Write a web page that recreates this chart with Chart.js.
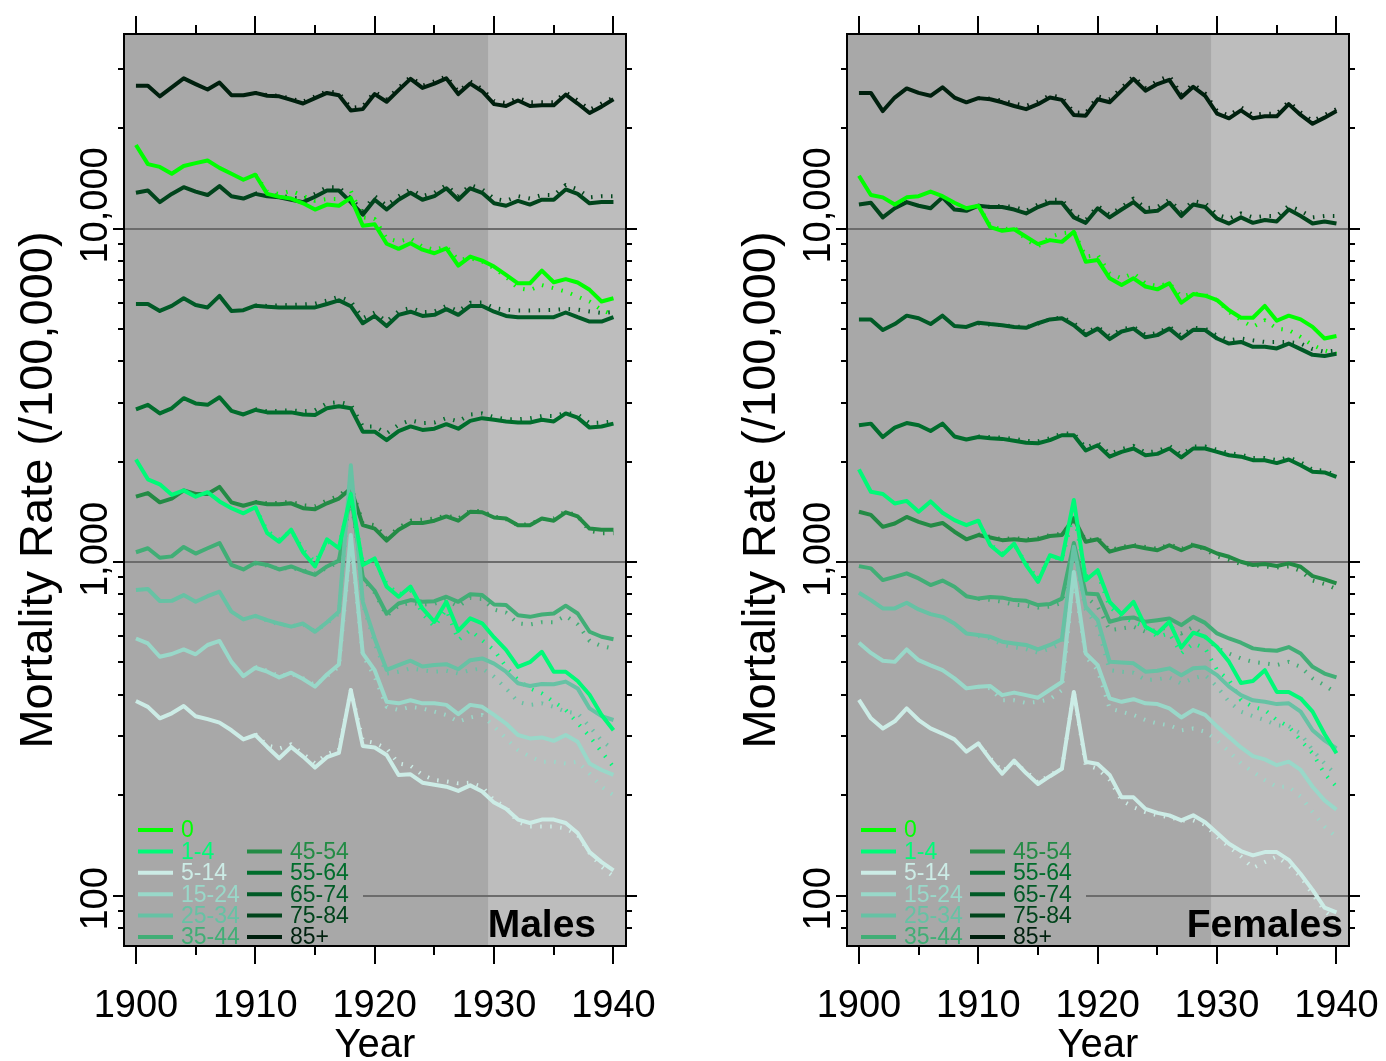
<!DOCTYPE html>
<html>
<head>
<meta charset="utf-8">
<script src="https://cdn.jsdelivr.net/npm/chart.js@4.4.1/dist/chart.umd.min.js"></script>
<style>
html,body{margin:0;padding:0;background:#ffffff;overflow:hidden;}
#wrap{position:relative;width:1386px;height:1061px;}
canvas{position:absolute;top:0;}
</style>
</head>
<body>
<div id="wrap">
<canvas id="cMales" width="693" height="1061" style="left:0px"></canvas>
<canvas id="cFemales" width="693" height="1061" style="left:693px"></canvas>
</div>
<script>
// ---------------- DATA ----------------
const YEARS = [1900,1901,1902,1903,1904,1905,1906,1907,1908,1909,1910,1911,1912,1913,1914,1915,1916,1917,1918,1919,1920,1921,1922,1923,1924,1925,1926,1927,1928,1929,1930,1931,1932,1933,1934,1935,1936,1937,1938,1939,1940];
const FIT_YEARS = [1910,1911,1912,1913,1914,1915,1916,1917,1918,1919,1920,1921,1922,1923,1924,1925,1926,1927,1928,1929,1930,1931,1932,1933,1934,1935,1936,1937,1938,1939,1940];
const AGE_GROUPS = ['0','1-4','5-14','15-24','25-34','35-44','45-54','55-64','65-74','75-84','85+'];
const X_MAJOR_TICKS = [1900,1910,1920,1930,1940];
const X_MINOR_TICKS = [1905,1915,1925,1935];
const Y_MAJOR_TICKS = [100,1000,10000];
const Y_TICK_LABELS = ['100','1,000','10,000'];
const Y_MINOR_TICKS = [80,90,200,300,400,500,600,700,800,900,2000,3000,4000,5000,6000,7000,8000,9000,20000,30000];
const SHADE_START_YEAR = 1929.5;
const PANEL_LABEL_YEAR = 1934;

// Males, observed (solid)
const M_OBS_0     = [17800,15600,15300,14600,15400,15700,16000,15200,14600,14000,14500,12700,12450,12300,11900,11400,11800,11700,12350,10200,10300,9000,8690,9030,8640,8430,8720,7740,8240,8010,7690,7260,6850,6850,7480,6900,7050,6890,6550,6040,6180];
const M_OBS_1_4   = [2030,1770,1710,1590,1640,1570,1620,1520,1450,1400,1460,1220,1150,1250,1070,970,1170,1100,1600,980,1025,844,787,844,726,662,760,622,678,655,594,545,485,501,538,469,469,440,400,348,313];
const M_OBS_5_14  = [383,368,340,352,370,345,338,330,313,294,303,279,258,279,261,242,260,268,413,281,278,264,230,231,218,215,212,206,214,205,190,182,169,165,169,169,165,154,135,126,119];
const M_OBS_15_24 = [590,570,520,530,547,529,564,580,502,455,482,469,451,466,446,423,460,493,1205,532,474,381,377,385,377,377,373,350,373,368,348,328,303,296,298,291,303,289,249,238,230];
const M_OBS_25_34 = [824,830,764,765,796,760,790,815,710,673,690,670,654,640,654,618,660,710,1950,760,590,475,491,506,486,491,494,477,508,514,496,469,433,425,431,430,438,418,364,345,336];
const M_OBS_35_44 = [1070,1100,1030,1040,1110,1060,1100,1140,980,950,995,980,950,970,940,915,970,1010,1600,900,820,700,751,769,760,763,787,760,801,796,746,743,693,685,696,701,740,701,618,597,587];
const M_OBS_45_54 = [1570,1610,1510,1550,1640,1600,1600,1680,1510,1475,1510,1490,1490,1500,1450,1440,1500,1550,1660,1290,1260,1160,1250,1310,1310,1330,1370,1330,1415,1410,1360,1350,1290,1290,1350,1330,1410,1370,1260,1250,1250];
const M_OBS_55_64 = [2870,2960,2790,2890,3100,2990,2960,3120,2840,2770,2860,2810,2810,2810,2770,2760,2890,2930,2890,2460,2460,2320,2470,2550,2490,2510,2590,2510,2650,2700,2670,2640,2620,2620,2670,2640,2790,2710,2530,2550,2600];
const M_OBS_65_74 = [5940,5940,5660,5860,6180,5900,5800,6280,5660,5690,5870,5830,5800,5800,5800,5800,5940,6090,5850,5200,5470,5100,5510,5630,5470,5510,5730,5510,5860,5860,5630,5470,5420,5420,5420,5420,5600,5420,5260,5260,5420];
const M_OBS_75_84 = [12800,13000,12000,12700,13300,12900,12600,13400,12500,12300,12700,12500,12400,12200,12000,12450,13000,13000,12000,11000,12200,11400,12200,12800,12200,12500,13200,12200,13200,12800,11900,11700,12100,11800,12200,12200,13100,12700,11900,12000,12000];
const M_OBS_85    = [26800,26800,24900,26500,28200,27100,26100,27400,25100,25100,25500,25000,24900,24300,23700,24600,25500,25100,22600,22800,25300,24000,26000,28100,26400,27200,28200,25300,27200,25800,23600,23300,24200,23300,23400,23400,25200,23700,22200,23200,24400];

// Males, fitted (dotted), 1910-1940
const M_FIT_0     = [14500,12900,12700,12970,12530,12110,12250,12250,12970,10800,10680,9340,9140,9340,8830,8630,8830,8050,8150,7970,7590,7170,6620,6540,6770,6620,6470,6250,6040,5700,5510];
const M_FIT_1_4   = [1460,1240,1170,1240,1090,1000,1150,1120,1550,1000,1010,860,800,820,700,640,720,583,625,583,545,485,443,418,404,381,360,329,300,270,243];
const M_FIT_5_14  = [305,282,276,284,266,249,266,273,413,292,287,276,249,245,230,222,220,217,218,212,193,184,166,161,161,161,159,152,134,122,114];
const M_FIT_15_24 = [485,472,455,462,448,428,455,485,1150,526,453,368,360,368,364,356,348,332,342,348,321,296,273,261,252,252,249,252,232,212,200];
const M_FIT_25_34 = [688,668,650,642,650,620,655,700,1850,750,570,463,469,480,474,469,472,463,474,480,453,418,381,373,377,368,356,352,321,292,273];
const M_FIT_35_44 = [990,975,955,960,945,925,960,1000,1550,890,810,690,740,755,745,750,770,735,780,775,720,705,655,650,660,660,690,650,580,560,550];
const M_FIT_45_54 = [1515,1500,1505,1515,1480,1470,1530,1580,1690,1310,1290,1180,1270,1330,1340,1350,1380,1350,1425,1420,1370,1345,1290,1300,1345,1350,1420,1375,1240,1220,1220];
const M_FIT_55_64 = [2870,2830,2840,2850,2830,2850,2990,3020,2960,2550,2550,2430,2580,2660,2610,2620,2700,2640,2770,2790,2720,2680,2680,2700,2740,2740,2800,2770,2610,2620,2640];
const M_FIT_65_74 = [5880,5860,5880,5900,5920,5950,6080,6250,6050,5380,5600,5260,5650,5780,5610,5640,5860,5650,5990,6000,5780,5700,5680,5680,5690,5700,5740,5710,5640,5580,5620];
const M_FIT_75_84 = [12750,12600,12550,12400,12250,12700,13300,13300,12300,11300,12500,11700,12500,13100,12500,12800,13500,12500,13500,13100,12300,12100,12500,12300,12600,12600,13500,13100,12400,12500,12500];
const M_FIT_85    = [25500,25100,25000,24500,24000,24900,25800,25500,23000,23200,25700,24400,26400,28500,26800,27600,28600,25700,27600,26200,24100,23800,24600,23900,23900,23900,25600,24200,22700,23700,24700];

// Females, observed (solid)
const F_OBS_0     = [14400,12600,12400,11800,12400,12500,12900,12500,11950,11500,11700,10100,9840,9950,9450,8980,9230,9120,9780,7950,8050,7090,6770,7090,6700,6570,6850,5990,6360,6290,6100,5690,5400,5400,5860,5290,5480,5340,5070,4680,4760];
const F_OBS_1_4   = [1896,1625,1600,1498,1525,1415,1520,1405,1336,1290,1330,1123,1048,1135,979,872,1048,1018,1535,882,945,760,698,760,640,611,662,554,614,597,556,502,434,440,474,408,408,390,356,305,267];
const F_OBS_5_14  = [386,340,317,333,364,336,317,306,294,270,286,256,232,254,233,216,228,240,408,252,248,230,197,197,182,177,174,168,174,166,154,143,136,132,135,135,128,116,104,92,89];
const F_OBS_15_24 = [573,534,506,502,547,508,490,474,448,418,423,425,399,406,399,392,414,437,933,532,491,390,381,388,377,375,364,342,360,348,321,299,278,262,256,246,252,238,212,193,181];
const F_OBS_25_34 = [809,769,726,726,755,721,698,685,654,611,604,597,577,570,564,547,564,587,1111,734,670,502,500,497,469,472,480,458,480,483,458,423,399,385,381,375,377,356,313,292,276];
const F_OBS_35_44 = [972,957,883,903,925,893,853,880,843,790,777,786,782,769,765,743,748,777,1140,805,801,662,677,682,662,669,677,647,685,657,611,590,573,551,545,542,556,532,485,463,451];
const F_OBS_45_54 = [1415,1385,1275,1305,1365,1320,1285,1310,1233,1170,1205,1185,1163,1170,1160,1170,1197,1205,1352,1150,1170,1074,1100,1118,1100,1085,1123,1085,1123,1100,1061,1037,1002,980,987,973,991,968,907,887,863];
const F_OBS_55_64 = [2570,2600,2370,2530,2610,2570,2470,2600,2380,2330,2370,2350,2340,2310,2280,2270,2320,2400,2400,2160,2240,2070,2140,2190,2090,2110,2190,2060,2190,2190,2140,2090,2070,2020,2020,1980,2030,1950,1865,1857,1800];
const F_OBS_65_74 = [5340,5340,4960,5170,5480,5380,5170,5480,5100,5070,5220,5170,5130,5070,5040,5200,5340,5380,5130,4790,5010,4660,4910,5010,4720,4790,5010,4680,4970,4960,4680,4520,4570,4420,4420,4370,4520,4350,4180,4150,4210];
const F_OBS_75_84 = [11800,11950,10800,11500,12000,11700,11500,12400,11400,11300,11700,11600,11600,11400,11100,11600,11950,11950,10800,10400,11500,10800,11400,12000,11200,11300,11950,10900,11800,11600,10700,10350,10800,10400,10600,10500,11400,10900,10350,10500,10350];
const F_OBS_85    = [25500,25500,22500,24700,26300,25500,25000,26500,24700,23900,24600,24400,23900,23300,22800,23600,24700,24300,21900,21800,24400,23900,25900,28100,25900,27100,27900,24700,26600,25000,22100,21400,22600,21400,21700,21700,23600,21900,20600,21500,22500];

// Females, fitted (dotted), 1910-1940
const F_FIT_0     = [11700,10200,9900,10100,9240,8830,9450,9670,9780,8230,8330,7340,7090,7340,6850,6720,6850,6250,6390,6320,6100,5620,5310,5070,5310,5010,4960,4730,4470,4310,4210];
const F_FIT_1_4   = [1330,1130,1060,1130,990,890,1040,1020,1400,903,925,734,685,661,640,597,611,532,570,551,474,443,386,368,360,336,321,292,267,232,212];
const F_FIT_5_14  = [286,258,236,250,236,218,230,240,408,246,240,222,193,184,178,174,172,168,168,163,150,140,131,121,126,131,123,114,101,90,84];
const F_FIT_15_24 = [423,418,385,385,378,381,388,413,900,520,474,364,356,348,336,328,324,313,317,310,292,270,249,235,222,212,212,198,178,161,150];
const F_FIT_25_34 = [600,590,565,555,548,535,550,570,1080,720,640,474,469,466,443,445,451,432,448,458,423,381,356,345,336,324,322,306,273,249,230];
const F_FIT_35_44 = [775,770,760,745,740,730,735,755,1110,787,734,625,632,640,618,625,640,611,640,597,551,532,514,502,497,491,502,485,448,427,404];
const F_FIT_45_54 = [1210,1190,1170,1180,1170,1180,1205,1215,1330,1160,1180,1085,1110,1125,1110,1095,1130,1095,1130,1090,1040,1015,985,980,970,963,970,940,880,860,830];
const F_FIT_55_64 = [2380,2370,2360,2340,2310,2300,2350,2430,2430,2200,2280,2110,2180,2230,2130,2150,2230,2100,2220,2220,2170,2120,2100,2050,2050,2020,2060,1990,1890,1880,1820];
const F_FIT_65_74 = [5200,5150,5130,5090,5060,5190,5340,5420,5200,4870,5070,4760,4990,5070,4800,4860,5080,4770,5040,5010,4770,4620,4680,4620,4570,4570,4570,4520,4350,4270,4310];
const F_FIT_75_84 = [11700,11600,11700,11600,11300,11800,12200,12200,11000,10600,11700,11000,11600,12300,11500,11600,12200,11200,12100,11900,11000,10700,11100,10800,10900,10900,11700,11300,10800,10900,10900];
const F_FIT_85    = [24600,24500,24200,23700,23300,24000,25100,24700,22300,22200,24900,24400,26400,28600,26400,27700,28700,25200,27100,25400,22500,21800,23100,21900,22100,22100,24000,22300,21000,21900,22800];

const MALE_OBS = [M_OBS_0,M_OBS_1_4,M_OBS_5_14,M_OBS_15_24,M_OBS_25_34,M_OBS_35_44,M_OBS_45_54,M_OBS_55_64,M_OBS_65_74,M_OBS_75_84,M_OBS_85];
const MALE_FIT = [M_FIT_0,M_FIT_1_4,M_FIT_5_14,M_FIT_15_24,M_FIT_25_34,M_FIT_35_44,M_FIT_45_54,M_FIT_55_64,M_FIT_65_74,M_FIT_75_84,M_FIT_85];
const FEMALE_OBS = [F_OBS_0,F_OBS_1_4,F_OBS_5_14,F_OBS_15_24,F_OBS_25_34,F_OBS_35_44,F_OBS_45_54,F_OBS_55_64,F_OBS_65_74,F_OBS_75_84,F_OBS_85];
const FEMALE_FIT = [F_FIT_0,F_FIT_1_4,F_FIT_5_14,F_FIT_15_24,F_FIT_25_34,F_FIT_35_44,F_FIT_45_54,F_FIT_55_64,F_FIT_65_74,F_FIT_75_84,F_FIT_85];

// ---------------- STYLE ----------------
const COLORS = ['#00ff00','#00fa78','#ccece6','#99d8c9','#66c2a4','#41ae76','#238b45','#006d2c','#005a26','#00441b','#00200e'];
const BG_DARK = '#a8a8a8';
const BG_LIGHT = '#bdbdbd';
const FONT = "'Liberation Sans', Arial, Helvetica, sans-serif";

function buildDatasets(obs, fit) {
  const ds = [];
  AGE_GROUPS.forEach((g, i) => {
    ds.push({
      label: g,
      data: YEARS.map((yr, k) => ({x: yr, y: obs[i][k]})),
      borderColor: COLORS[i], backgroundColor: COLORS[i],
      borderWidth: 4, pointRadius: 0, tension: 0, fill: false
    });
  });
  AGE_GROUPS.forEach((g, i) => {
    ds.push({
      label: g + ' (fitted)',
      data: FIT_YEARS.map((yr, k) => ({x: yr, y: fit[i][k]})),
      borderColor: COLORS[i], backgroundColor: COLORS[i],
      borderWidth: 4, borderDash: [1.5, 8.5], borderCapStyle: 'butt',
      pointRadius: 0, tension: 0, fill: false
    });
  });
  return ds;
}

function panelPlugin(panelName) {
  return {
    id: 'panelDecor',
    beforeDatasetsDraw(chart) {
      const {ctx, chartArea: a, scales: {x, y}} = chart;
      ctx.save();
      ctx.fillStyle = BG_DARK;
      ctx.fillRect(a.left, a.top, a.right - a.left, a.bottom - a.top);
      const xs = x.getPixelForValue(SHADE_START_YEAR);
      ctx.fillStyle = BG_LIGHT;
      ctx.fillRect(xs, a.top, a.right - xs, a.bottom - a.top);
      ctx.strokeStyle = '#6c6c6c';
      ctx.lineWidth = 2;
      Y_MAJOR_TICKS.forEach(v => {
        const py = Math.round(y.getPixelForValue(v));
        ctx.beginPath(); ctx.moveTo(a.left, py); ctx.lineTo(a.right, py); ctx.stroke();
      });
      // legend background box
      ctx.fillStyle = BG_DARK;
      ctx.fillRect(a.left + 1, a.bottom - 132, 238, 131);
      ctx.restore();
    },
    afterDatasetsDraw(chart) {
      const {ctx, chartArea: a, scales: {x, y}} = chart;
      ctx.save();
      // legend
      ctx.font = '23px ' + FONT;
      ctx.textBaseline = 'middle';
      ctx.textAlign = 'left';
      ctx.lineWidth = 4;
      AGE_GROUPS.forEach((g, i) => {
        let col, row;
        if (i < 6) { col = 0; row = i; } else { col = 1; row = i - 5; }
        const ry = a.bottom - 116 + row * 21.4;
        const lx = a.left + (col === 0 ? 14 : 123);
        ctx.strokeStyle = COLORS[i];
        ctx.beginPath(); ctx.moveTo(lx, ry); ctx.lineTo(lx + 35, ry); ctx.stroke();
        ctx.fillStyle = COLORS[i];
        ctx.fillText(g, lx + 43, ry + 1);
      });
      // border
      ctx.strokeStyle = '#000000';
      ctx.lineWidth = 2;
      ctx.strokeRect(a.left, a.top, a.right - a.left, a.bottom - a.top);
      // ticks
      ctx.beginPath();
      X_MAJOR_TICKS.forEach(v => {
        const px = Math.round(x.getPixelForValue(v));
        ctx.moveTo(px, a.top); ctx.lineTo(px, a.top - 18);
        ctx.moveTo(px, a.bottom); ctx.lineTo(px, a.bottom + 18);
      });
      X_MINOR_TICKS.forEach(v => {
        const px = Math.round(x.getPixelForValue(v));
        ctx.moveTo(px, a.top); ctx.lineTo(px, a.top - 9);
        ctx.moveTo(px, a.bottom); ctx.lineTo(px, a.bottom + 9);
      });
      Y_MAJOR_TICKS.forEach(v => {
        const py = Math.round(y.getPixelForValue(v));
        ctx.moveTo(a.left, py); ctx.lineTo(a.left - 11, py);
        ctx.moveTo(a.right, py); ctx.lineTo(a.right + 11, py);
      });
      Y_MINOR_TICKS.forEach(v => {
        const py = Math.round(y.getPixelForValue(v));
        ctx.moveTo(a.left, py); ctx.lineTo(a.left - 6, py);
        ctx.moveTo(a.right, py); ctx.lineTo(a.right + 6, py);
      });
      ctx.stroke();
      // x tick labels
      ctx.fillStyle = '#000000';
      ctx.font = '38px ' + FONT;
      ctx.textAlign = 'center';
      ctx.textBaseline = 'alphabetic';
      X_MAJOR_TICKS.forEach(v => {
        ctx.fillText(String(v), x.getPixelForValue(v), a.bottom + 71);
      });
      // x title
      ctx.font = '40px ' + FONT;
      ctx.fillText('Year', (a.left + a.right) / 2, a.bottom + 111);
      // y tick labels (rotated)
      ctx.font = '38px ' + FONT;
      Y_MAJOR_TICKS.forEach((v, i) => {
        const py = y.getPixelForValue(v);
        ctx.save();
        ctx.translate(a.left - 17, py + 35);
        ctx.rotate(-Math.PI / 2);
        ctx.textAlign = 'left';
        ctx.textBaseline = 'alphabetic';
        ctx.fillText(Y_TICK_LABELS[i], 0, 0);
        ctx.restore();
      });
      // y title
      ctx.save();
      ctx.font = '47px ' + FONT;
      ctx.translate(a.left - 72, (a.top + a.bottom) / 2);
      ctx.rotate(-Math.PI / 2);
      ctx.textAlign = 'center';
      ctx.textBaseline = 'alphabetic';
      ctx.fillText('Mortality Rate (/100,000)', 0, 0);
      ctx.restore();
      // panel name
      ctx.font = 'bold 39px ' + FONT;
      ctx.textAlign = 'center';
      ctx.textBaseline = 'alphabetic';
      ctx.fillText(panelName, x.getPixelForValue(PANEL_LABEL_YEAR), a.bottom - 9);
      ctx.restore();
    }
  };
}

function makeChart(canvasId, obs, fit, panelName, padLeft, padRight) {
  return new Chart(document.getElementById(canvasId), {
    type: 'line',
    data: { datasets: buildDatasets(obs, fit) },
    options: {
      responsive: false,
      animation: false,
      devicePixelRatio: 1,
      layout: { padding: { left: padLeft, right: padRight, top: 34, bottom: 115 } },
      scales: {
        x: { type: 'linear', min: 1899, max: 1941.05, bounds: 'data', display: false },
        y: { type: 'logarithmic', min: 70.6, max: 38300, bounds: 'data', display: false }
      },
      plugins: { legend: { display: false }, tooltip: { enabled: false } },
      elements: { line: { borderJoinStyle: 'round' } }
    },
    plugins: [panelPlugin(panelName)]
  });
}

makeChart('cMales', MALE_OBS, MALE_FIT, 'Males', 124, 67);
makeChart('cFemales', FEMALE_OBS, FEMALE_FIT, 'Females', 154, 37);
</script>
</body>
</html>
